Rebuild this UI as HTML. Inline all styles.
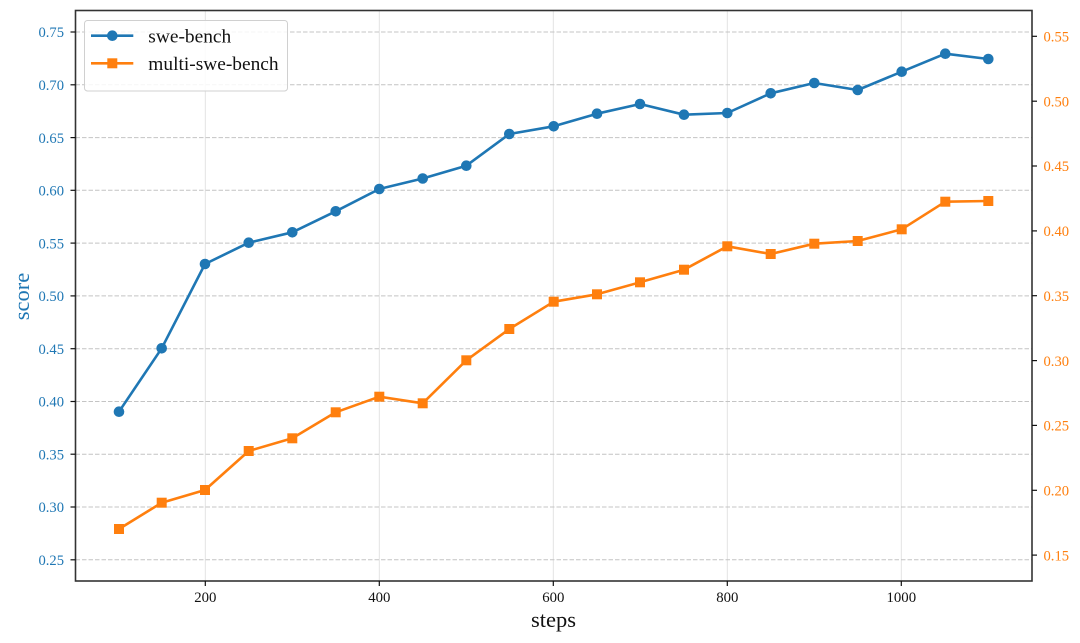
<!DOCTYPE html>
<html><head><meta charset="utf-8"><style>
html,body{margin:0;padding:0;background:#fff;}
svg{display:block;}
text{font-family:"Liberation Serif","DejaVu Serif",serif;}
</style></head><body>
<svg width="1080" height="643" viewBox="0 0 1080 643" xmlns="http://www.w3.org/2000/svg">
<rect width="1080" height="643" fill="#fff"/>
<!-- vertical grid -->
<g stroke="#e3e3e3" stroke-width="1">
<line x1="205.3" y1="10.5" x2="205.3" y2="580.5"/>
<line x1="379.3" y1="10.5" x2="379.3" y2="580.5"/>
<line x1="553.3" y1="10.5" x2="553.3" y2="580.5"/>
<line x1="727.3" y1="10.5" x2="727.3" y2="580.5"/>
<line x1="901.3" y1="10.5" x2="901.3" y2="580.5"/>
</g>
<!-- horizontal dashed grid -->
<g stroke="#c4c4c4" stroke-width="1" stroke-dasharray="4.5,2">
<line x1="75.5" y1="32.0" x2="1032" y2="32.0"/>
<line x1="75.5" y1="84.8" x2="1032" y2="84.8"/>
<line x1="75.5" y1="137.6" x2="1032" y2="137.6"/>
<line x1="75.5" y1="190.3" x2="1032" y2="190.3"/>
<line x1="75.5" y1="243.1" x2="1032" y2="243.1"/>
<line x1="75.5" y1="295.9" x2="1032" y2="295.9"/>
<line x1="75.5" y1="348.7" x2="1032" y2="348.7"/>
<line x1="75.5" y1="401.5" x2="1032" y2="401.5"/>
<line x1="75.5" y1="454.2" x2="1032" y2="454.2"/>
<line x1="75.5" y1="507.0" x2="1032" y2="507.0"/>
<line x1="75.5" y1="559.8" x2="1032" y2="559.8"/>
</g>
<!-- swe-bench -->
<polyline fill="none" stroke="#1f77b4" stroke-width="2.6" stroke-linejoin="round"
points="119,411.7 161.7,348.3 205,264 248.7,242.7 292.3,232.3 335.7,211.3 379.3,189 422.7,178.5 466.3,165.7 509.3,134 553.7,126.3 597,113.7 640,104 684,114.7 727.3,113 770.7,93.3 814.3,83 857.7,90 901.7,71.7 945.3,53.7 988.3,59"/>
<g fill="#1f77b4">
<circle cx="119" cy="411.7" r="5.3"/><circle cx="161.7" cy="348.3" r="5.3"/><circle cx="205" cy="264" r="5.3"/>
<circle cx="248.7" cy="242.7" r="5.3"/><circle cx="292.3" cy="232.3" r="5.3"/><circle cx="335.7" cy="211.3" r="5.3"/>
<circle cx="379.3" cy="189" r="5.3"/><circle cx="422.7" cy="178.5" r="5.3"/><circle cx="466.3" cy="165.7" r="5.3"/>
<circle cx="509.3" cy="134" r="5.3"/><circle cx="553.7" cy="126.3" r="5.3"/><circle cx="597" cy="113.7" r="5.3"/>
<circle cx="640" cy="104" r="5.3"/><circle cx="684" cy="114.7" r="5.3"/><circle cx="727.3" cy="113" r="5.3"/>
<circle cx="770.7" cy="93.3" r="5.3"/><circle cx="814.3" cy="83" r="5.3"/><circle cx="857.7" cy="90" r="5.3"/>
<circle cx="901.7" cy="71.7" r="5.3"/><circle cx="945.3" cy="53.7" r="5.3"/><circle cx="988.3" cy="59" r="5.3"/>
</g>
<!-- multi-swe-bench -->
<polyline fill="none" stroke="#ff7f0e" stroke-width="2.6" stroke-linejoin="round"
points="119,529 161.7,502.7 205,490 248.7,451 292.3,438.3 335.7,412.3 379.3,396.7 422.7,403.3 466.3,360.3 509.3,329 553.7,301.7 597,294.3 640,282.3 684,269.7 727.3,246.3 770.7,254 814.3,243.7 857.7,241 901.7,229.3 945.3,201.7 988.3,201"/>
<g fill="#ff7f0e">
<rect x="114" y="524" width="10" height="10"/><rect x="156.7" y="497.7" width="10" height="10"/><rect x="200" y="485" width="10" height="10"/>
<rect x="243.7" y="446" width="10" height="10"/><rect x="287.3" y="433.3" width="10" height="10"/><rect x="330.7" y="407.3" width="10" height="10"/>
<rect x="374.3" y="391.7" width="10" height="10"/><rect x="417.7" y="398.3" width="10" height="10"/><rect x="461.3" y="355.3" width="10" height="10"/>
<rect x="504.3" y="324" width="10" height="10"/><rect x="548.7" y="296.7" width="10" height="10"/><rect x="592" y="289.3" width="10" height="10"/>
<rect x="635" y="277.3" width="10" height="10"/><rect x="679" y="264.7" width="10" height="10"/><rect x="722.3" y="241.3" width="10" height="10"/>
<rect x="765.7" y="249" width="10" height="10"/><rect x="809.3" y="238.7" width="10" height="10"/><rect x="852.7" y="236" width="10" height="10"/>
<rect x="896.7" y="224.3" width="10" height="10"/><rect x="940.3" y="196.7" width="10" height="10"/><rect x="983.3" y="196" width="10" height="10"/>
</g>
<!-- frame -->
<rect x="75.5" y="10.5" width="956.5" height="570.5" fill="none" stroke="#333" stroke-width="1.6"/>
<!-- left ticks -->
<g stroke="#111" stroke-width="1.2">
<line x1="70.5" y1="32.0" x2="75.5" y2="32.0"/><line x1="70.5" y1="84.8" x2="75.5" y2="84.8"/>
<line x1="70.5" y1="137.6" x2="75.5" y2="137.6"/><line x1="70.5" y1="190.3" x2="75.5" y2="190.3"/>
<line x1="70.5" y1="243.1" x2="75.5" y2="243.1"/><line x1="70.5" y1="295.9" x2="75.5" y2="295.9"/>
<line x1="70.5" y1="348.7" x2="75.5" y2="348.7"/><line x1="70.5" y1="401.5" x2="75.5" y2="401.5"/>
<line x1="70.5" y1="454.2" x2="75.5" y2="454.2"/><line x1="70.5" y1="507.0" x2="75.5" y2="507.0"/>
<line x1="70.5" y1="559.8" x2="75.5" y2="559.8"/>
<!-- right ticks -->
<line x1="1032" y1="36.3" x2="1037" y2="36.3"/><line x1="1032" y1="101.2" x2="1037" y2="101.2"/>
<line x1="1032" y1="166.0" x2="1037" y2="166.0"/><line x1="1032" y1="230.9" x2="1037" y2="230.9"/>
<line x1="1032" y1="295.7" x2="1037" y2="295.7"/><line x1="1032" y1="360.6" x2="1037" y2="360.6"/>
<line x1="1032" y1="425.4" x2="1037" y2="425.4"/><line x1="1032" y1="490.3" x2="1037" y2="490.3"/>
<line x1="1032" y1="555.1" x2="1037" y2="555.1"/>
<!-- x ticks -->
<line x1="205.3" y1="581" x2="205.3" y2="586"/><line x1="379.3" y1="581" x2="379.3" y2="586"/>
<line x1="553.3" y1="581" x2="553.3" y2="586"/><line x1="727.3" y1="581" x2="727.3" y2="586"/>
<line x1="901.3" y1="581" x2="901.3" y2="586"/>
</g>
<!-- left tick labels -->
<g fill="#1f77b4" font-size="14.6" text-anchor="end">
<text x="64" y="37.2">0.75</text><text x="64" y="90.0">0.70</text><text x="64" y="142.8">0.65</text>
<text x="64" y="195.5">0.60</text><text x="64" y="248.3">0.55</text><text x="64" y="301.1">0.50</text>
<text x="64" y="353.9">0.45</text><text x="64" y="406.7">0.40</text><text x="64" y="459.4">0.35</text>
<text x="64" y="512.2">0.30</text><text x="64" y="565.0">0.25</text>
</g>
<!-- right tick labels -->
<g fill="#ff7f0e" font-size="14.6">
<text x="1043.5" y="41.5">0.55</text><text x="1043.5" y="106.4">0.50</text><text x="1043.5" y="171.2">0.45</text>
<text x="1043.5" y="236.1">0.40</text><text x="1043.5" y="300.9">0.35</text><text x="1043.5" y="365.8">0.30</text>
<text x="1043.5" y="430.6">0.25</text><text x="1043.5" y="495.5">0.20</text><text x="1043.5" y="560.3">0.15</text>
</g>
<!-- x tick labels -->
<g fill="#111" font-size="14.8" text-anchor="middle">
<text x="205.3" y="602">200</text><text x="379.3" y="602">400</text><text x="553.3" y="602">600</text>
<text x="727.3" y="602">800</text><text x="901.3" y="602">1000</text>
</g>
<!-- axis labels -->
<text x="553.5" y="627" font-size="22.5" text-anchor="middle" fill="#111">steps</text>
<text transform="translate(28.8,296.5) rotate(-90)" font-size="22.5" text-anchor="middle" fill="#1f77b4">score</text>
<!-- legend -->
<rect x="84.5" y="20.5" width="203" height="70.5" rx="3" ry="3" fill="#fff" fill-opacity="0.85" stroke="#d0d0d0" stroke-width="1"/>
<line x1="91" y1="35.7" x2="133.3" y2="35.7" stroke="#1f77b4" stroke-width="2.6"/>
<circle cx="112.3" cy="35.7" r="5.3" fill="#1f77b4"/>
<line x1="91" y1="63.3" x2="133.3" y2="63.3" stroke="#ff7f0e" stroke-width="2.6"/>
<rect x="107.3" y="58.3" width="10" height="10" fill="#ff7f0e"/>
<text x="148.3" y="42.5" font-size="19.4" fill="#111">swe-bench</text>
<text x="148.3" y="70.2" font-size="19.4" fill="#111">multi-swe-bench</text>
</svg>
</body></html>
